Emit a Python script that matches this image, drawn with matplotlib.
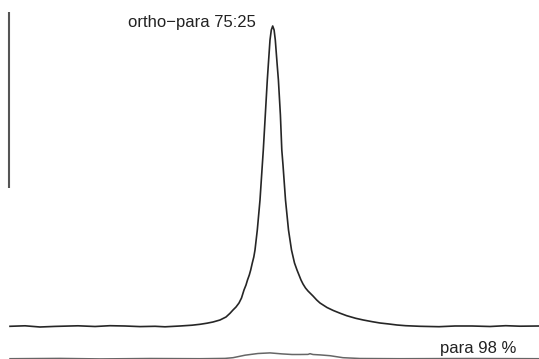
import matplotlib
matplotlib.use("Agg")
import matplotlib.pyplot as plt
import numpy as np

# ---- data (x = spectral position, y = intensity above baseline) ----
ortho_para_x = [10, 25, 40, 55, 78, 95, 110, 125, 140, 155, 165, 180, 192, 200, 207, 213, 220, 226, 230,
                233, 236, 239, 241.5, 244, 246, 247.5, 249.3, 250.7, 252.3, 253.8, 255, 257.3, 260,
                262.3, 263.3, 265.3, 267.3, 268.3, 270, 271.3, 272.7, 274.1, 275.3, 277.2, 278.4,
                280.4, 281.8, 283.0, 285.5, 288.5, 291.5, 294.5, 297, 299, 301, 303, 305.5, 308,
                310.5, 313, 316.7, 320, 327, 333.3, 340, 346.7, 355.7, 363.3, 372.3, 380, 389,
                397, 405.7, 420, 439, 455, 472, 490, 505.7, 520, 539]
ortho_para_y = [-0.3, 0.2, -1.0, -0.4, 0.2, -0.5, 0.3, 0.0, -0.6, -0.3, -0.8, 0.0, 0.8, 1.7, 2.8, 4.0, 6.0, 9.0, 12.7,
                16.0, 19.0, 23.0, 28.0, 36.0, 41.0, 46.0, 51.0, 56.0, 63.0, 69.0, 76.0, 96.0, 126.0,
                161.0, 176.0, 211.0, 246.0, 261.0, 286.0, 296.0, 300.0, 296.0, 286.0, 261.0, 246.0,
                211.0, 176.0, 161.0, 126.0, 96.0, 76.0, 63.0, 56.0, 51.0, 46.0, 42.0, 38.0, 35.0,
                32.5, 30.0, 26.0, 23.0, 18.5, 15.5, 12.8, 10.3, 7.7, 6.0, 4.3, 3.0, 2.0,
                1.0, 0.3, -0.3, -0.7, 0.0, 0.0, -0.5, 0.3, -0.2, 0.0]

para_x = [10, 60, 100, 150, 200, 225, 233, 245, 258, 270, 282, 292, 300, 308, 310, 313, 320, 330, 343, 360, 400, 470, 539]
para_y = [0.0, 0.3, -0.2, 0.2, 0.0, 0.3, 1.0, 3.5, 5.2, 5.8, 4.8, 4.2, 4.2, 4.3, 5.0, 4.2, 3.8, 3.0, 1.0, 0.2, 0.0, 0.2, 0.0]

scale_bar = [138, 314]   # intensity span of the vertical scale bar (relative to top baseline)

labels = ["ortho\u2212para 75:25", "para 98 %"]

# ---- drawing ----
W, H = 539, 359
fig = plt.figure(figsize=(W / 100, H / 100), dpi=100)
ax = fig.add_axes([0, 0, 1, 1])
ax.set_xlim(0, W)
ax.set_ylim(0, H)
ax.axis("off")

top_offset = 33.0
bottom_offset = 0.3

ax.plot(ortho_para_x, np.array(ortho_para_y) + top_offset, color="#262626", lw=1.2,
        solid_joinstyle="round")
ax.plot(para_x, np.array(para_y) + bottom_offset, color="#666666", lw=1.1)

ax.plot([9.3, 9.3], [scale_bar[0] + top_offset, scale_bar[1] + top_offset],
        color="#555555", lw=1.5, solid_capstyle="butt")

ax.text(128, 332, labels[0], fontsize=12, family=["Liberation Sans", "DejaVu Sans"],
        color="#222222", ha="left", va="baseline")
ax.text(440, 5.7, labels[1], fontsize=12, family=["Liberation Sans", "DejaVu Sans"],
        color="#222222", ha="left", va="baseline")

fig.savefig("out.png", dpi=100)
